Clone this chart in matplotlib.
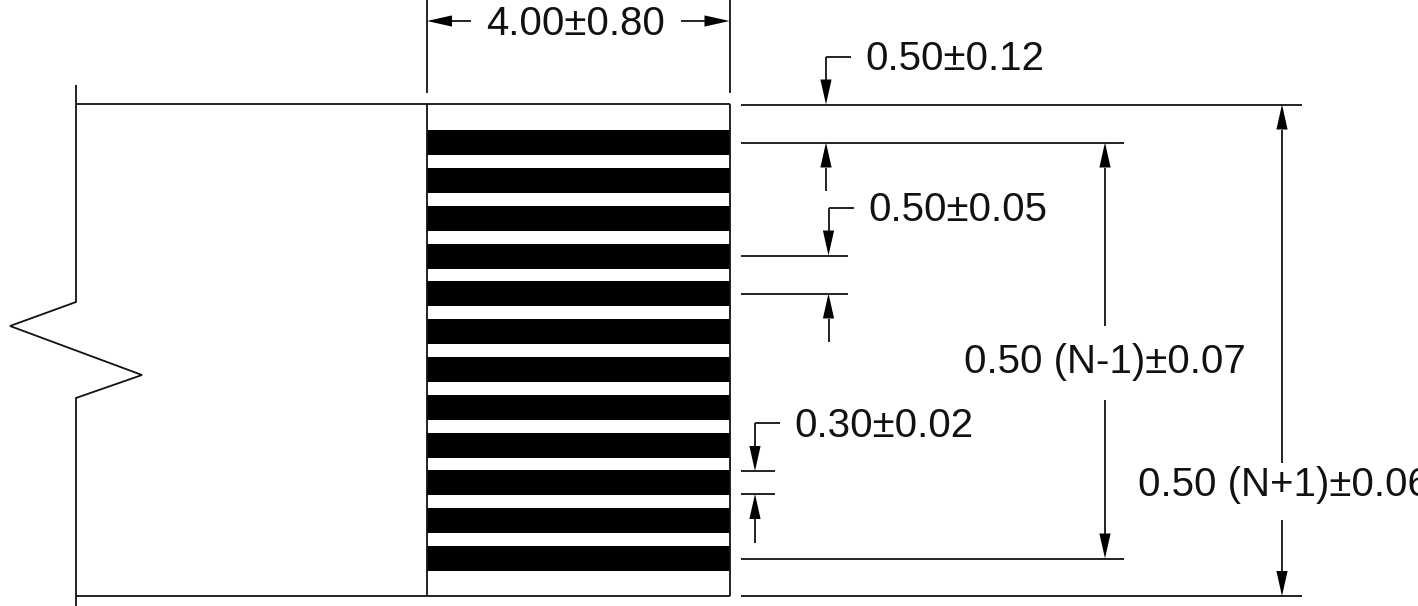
import matplotlib
matplotlib.use('Agg')
import matplotlib.pyplot as plt
import numpy as np

# Drawing data (pixel-like drawing units)
trace_centers = [142.5, 180.3, 218.2, 256.0, 293.8, 331.6, 369.4, 407.2, 445.0, 482.9, 520.7, 558.5]
trace_height = 25
trace_left = 427
trace_width = 303

labels = ['4.00±0.80', '0.50±0.12', '0.50±0.05', '0.30±0.02', '0.50 (N-1)±0.07', '0.50 (N+1)±0.06']
label_x = [486.5, 865.5, 868.5, 794.5, 964.5, 1137.5]
label_y = [35, 70.5, 220.7, 437.2, 373, 496]

# outline of the board with the break mark on the left
outline_x = [76, 76, 10, 142, 76, 76]
outline_y = [85, 302, 326, 375, 398, 606]

# extension lines: y, x start, x end
ext_y = [104.5, 142.5, 255.5, 293.5, 471, 494, 558.5, 596]
ext_x0 = [741, 741, 741, 741, 741, 741, 741, 741]
ext_x1 = [1302, 1124, 848, 848, 775, 775, 1124, 1302]

LINE = '#111111'
LW = 1.3
HEAD_LEN = 25
HEAD_HALF = 5.6

fig = plt.figure(figsize=(14.18, 6.06), dpi=100)
ax = fig.add_axes([0, 0, 1, 1])
ax.set_xlim(0, 1418)
ax.set_ylim(606, 0)
ax.axis('off')


def line(xs, ys):
    ax.plot(xs, ys, color=LINE, lw=LW, solid_capstyle='butt', solid_joinstyle='miter', clip_on=True)


def arrow(start, end):
    # shaft plus a filled head, the tip lands exactly on the extension line
    start = np.array(start, dtype=float)
    end = np.array(end, dtype=float)
    u = (end - start) / np.linalg.norm(end - start)
    n = np.array([-u[1], u[0]])
    base = end - u * HEAD_LEN
    line([start[0], base[0]], [start[1], base[1]])
    head = np.array([end, base + n * HEAD_HALF, base - n * HEAD_HALF])
    ax.fill(head[:, 0], head[:, 1], color='black', lw=0)


# traces
ax.barh(trace_centers, [trace_width] * len(trace_centers), height=trace_height, left=trace_left,
        color='black', edgecolor='none')

# board outline
line(outline_x, outline_y)
line([76, 730], [104, 104])
line([76, 730], [596, 596])
line([427, 427], [104, 596])
line([729.5, 729.5], [104, 596])

# width dimension at the top
line([427, 427], [0, 93])
line([729.5, 729.5], [0, 93])
arrow((471, 21), (427, 21))
arrow((681, 21), (729.5, 21))

for y, x0, x1 in zip(ext_y, ext_x0, ext_x1):
    line([x0, x1], [y, y])

# leaders with a bend
line([851, 826], [56.5, 56.5])
arrow((826, 56.5), (826, 104.5))
arrow((826, 191), (826, 142.5))

line([853.5, 828.5], [207.5, 207.5])
arrow((828.5, 207.5), (828.5, 255.5))
arrow((828.5, 342), (828.5, 293.5))

line([780, 755], [423, 423])
arrow((755, 423), (755, 471))
arrow((755, 543), (755, 494))

# long dimensions
arrow((1105, 326), (1105, 142.5))
arrow((1105, 400), (1105, 558.5))
arrow((1282, 463), (1282, 104.5))
arrow((1282, 520), (1282, 596))

for txt, x, y in zip(labels, label_x, label_y):
    ax.text(x, y, txt, family='Liberation Sans', fontsize=29, color='#111111', ha='left', va='baseline',
            clip_on=True)

fig.savefig('out.png', dpi=100)
